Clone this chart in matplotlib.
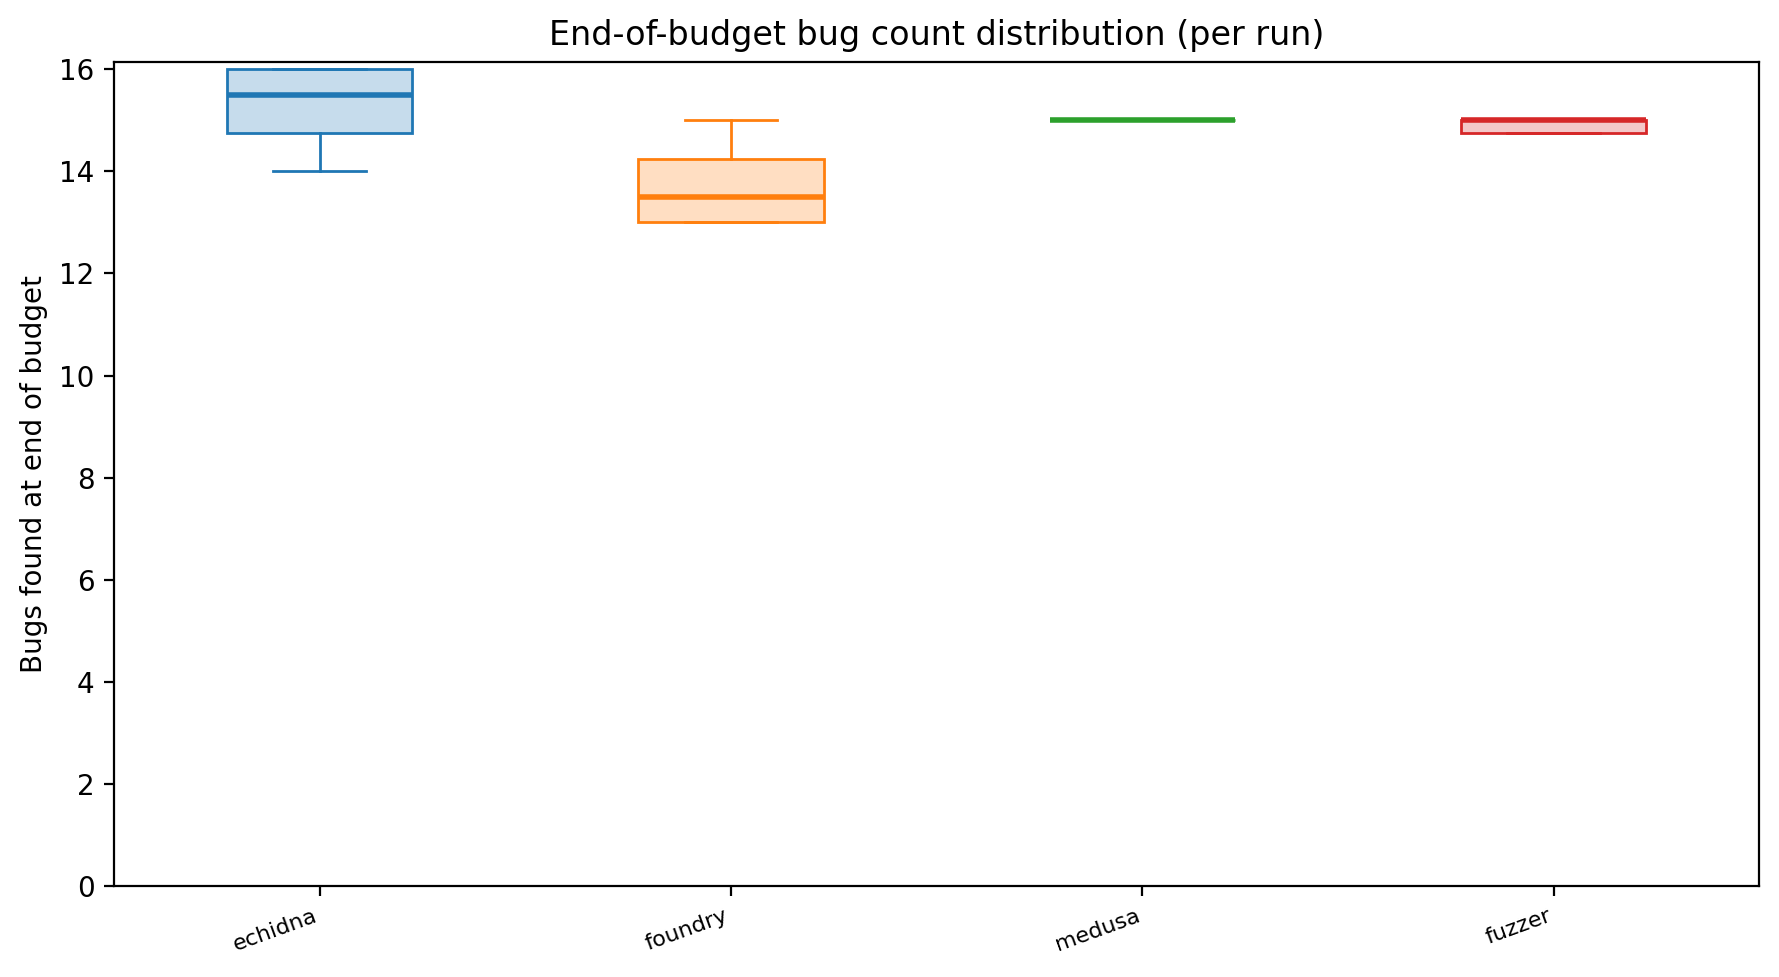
import numpy as np
import matplotlib.pyplot as plt
from matplotlib.colors import to_rgb

fuzzers = ["echidna", "foundry", "medusa", "fuzzer"]
bugs_echidna = [14, 15, 16, 16]
bugs_foundry = [13, 13, 14, 15]
bugs_medusa = [15, 15, 15, 15]
bugs_fuzzer = [14, 15, 15, 15]
colors = ["tab:blue", "tab:orange", "tab:green", "tab:red"]

data = [bugs_echidna, bugs_foundry, bugs_medusa, bugs_fuzzer]

fig, ax = plt.subplots(figsize=(1779 / 200, 977 / 200), dpi=200)
bp = ax.boxplot(data, widths=0.45, patch_artist=True, showfliers=False)

for i, c in enumerate(colors):
    bp["boxes"][i].set_facecolor((*to_rgb(c), 0.25))
    bp["boxes"][i].set_edgecolor(c)
    bp["boxes"][i].set_linewidth(1.0)
    bp["medians"][i].set_color(c)
    bp["medians"][i].set_linewidth(2)
    for w in bp["whiskers"][2 * i:2 * i + 2]:
        w.set_color(c)
    for cap in bp["caps"][2 * i:2 * i + 2]:
        cap.set_color(c)

ax.set_xticks(range(1, len(fuzzers) + 1))
ax.set_xticklabels(fuzzers, rotation=20, ha="right", fontsize=8)
ax.set_ylim(bottom=0)
ax.set_ylabel("Bugs found at end of budget")
ax.set_title("End-of-budget bug count distribution (per run)")

fig.subplots_adjust(left=0.064, right=0.989, top=0.937, bottom=0.093)
fig.savefig("out.png")
